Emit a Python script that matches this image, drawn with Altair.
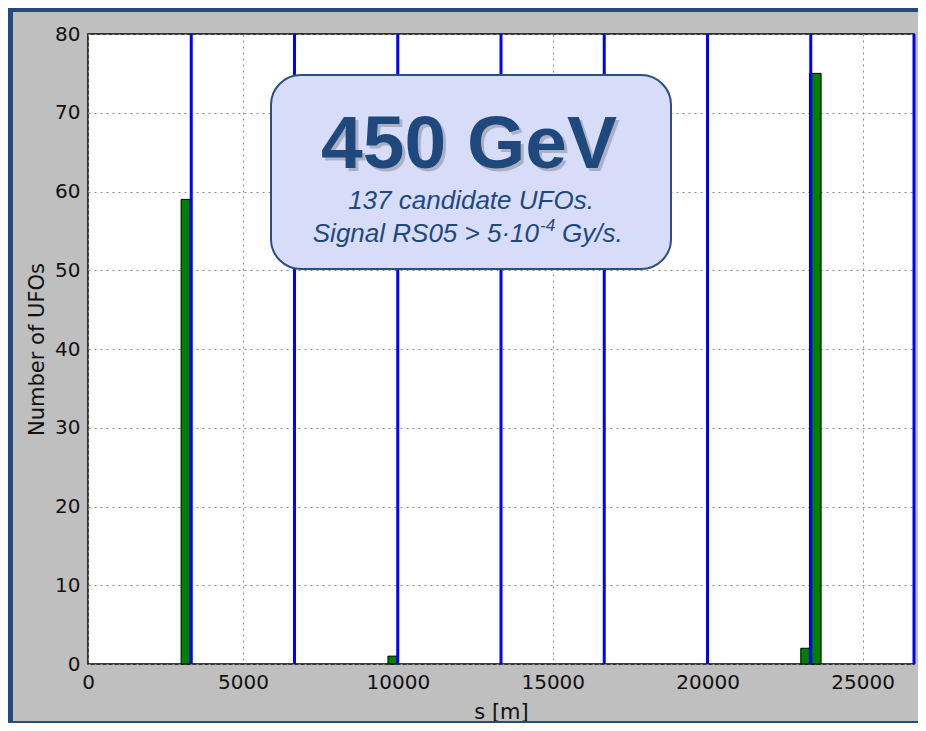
import altair as alt
import pandas as pd

# ---- data ----
bin_start = [3005, 9680, 23005, 23285]      # s [m], left edge of histogram bins
bin_end = [3295, 9975, 23285, 23660]        # s [m], right edge
counts = [59, 1, 2, 75]                     # Number of UFOs

octant_s = [3332, 6665, 9997, 13330, 16662, 19995, 23327, 26659]  # blue lines

x_ticks = [0, 5000, 10000, 15000, 20000, 25000]
y_ticks = [0, 10, 20, 30, 40, 50, 60, 70, 80]

title_main = "450 GeV"
line1 = "137 candidate UFOs."
line2_a = "Signal RS05 > 5·10"
line2_sup = "-4"
line2_b = "Gy/s."

CIRC = 26659
W, H = 826, 630
PAD = {"left": 80, "top": 26, "right": 4, "bottom": 59}

NAVY = "#1f497d"
BORDER = "#24497d"

bars_df = pd.DataFrame({"s0": bin_start, "s1": bin_end, "n": counts})
lines_df = pd.DataFrame({"s": octant_s})
one = pd.DataFrame({"a": [0]})

xscale = alt.Scale(domain=[0, CIRC], nice=False, zero=False)
yscale = alt.Scale(domain=[0, 80], nice=False)

xaxis = alt.Axis(values=x_ticks, format="d", title="s [m]", titlePadding=9)
yaxis = alt.Axis(values=y_ticks, format="d", title="Number of UFOs", titlePadding=7)

bars = alt.Chart(bars_df).mark_rect(fill="#008000", stroke="black", strokeWidth=1).encode(
    x=alt.X("s0:Q", scale=xscale, axis=xaxis),
    x2="s1",
    y=alt.Y("n:Q", scale=yscale, axis=yaxis),
    y2=alt.datum(0),
)

rules = alt.Chart(lines_df).mark_rule(color="#0000ff", strokeWidth=3).encode(
    x=alt.X("s:Q", scale=xscale)
)

box = alt.Chart(one).mark_rect(
    cornerRadius=30, fill="#d7ddf8", stroke="#2a5082", strokeWidth=2
).encode(x=alt.value(183), x2=alt.value(583), y=alt.value(41), y2=alt.value(235))

shadow = alt.Chart(one).mark_text(
    text=title_main, font="Liberation Sans", fontWeight="bold", fontSize=75,
    color="#000000", opacity=0.2, align="center", baseline="alphabetic", dx=3, dy=3
).encode(x=alt.value(381), y=alt.value(134))

big = alt.Chart(one).mark_text(
    text=title_main, font="Liberation Sans", fontWeight="bold", fontSize=75,
    color=NAVY, align="center", baseline="alphabetic"
).encode(x=alt.value(381), y=alt.value(134))

t1 = alt.Chart(one).mark_text(
    text=line1, font="Liberation Sans", fontStyle="italic", fontSize=26,
    color=NAVY, align="center", baseline="alphabetic"
).encode(x=alt.value(383), y=alt.value(175))

SPLIT_X = 451
t2a = alt.Chart(one).mark_text(
    text=line2_a, font="Liberation Sans", fontStyle="italic", fontSize=26,
    color=NAVY, align="right", baseline="alphabetic"
).encode(x=alt.value(SPLIT_X), y=alt.value(208))

t2s = alt.Chart(one).mark_text(
    text=line2_sup, font="Liberation Sans", fontStyle="italic", fontSize=17,
    color=NAVY, align="left", baseline="alphabetic"
).encode(x=alt.value(SPLIT_X + 1), y=alt.value(197))

t2b = alt.Chart(one).mark_text(
    text=line2_b, font="Liberation Sans", fontStyle="italic", fontSize=26,
    color=NAVY, align="left", baseline="alphabetic"
).encode(x=alt.value(SPLIT_X + 23), y=alt.value(208))

border_left = alt.Chart(one).mark_rect(fill=BORDER).encode(
    x=alt.value(-80), x2=alt.value(-75), y=alt.value(-26), y2=alt.value(H + 59)
)
border_top = alt.Chart(one).mark_rect(fill=BORDER).encode(
    x=alt.value(-80), x2=alt.value(W + 4), y=alt.value(-26), y2=alt.value(-22)
)
border_bottom = alt.Chart(one).mark_rect(fill=BORDER).encode(
    x=alt.value(-80), x2=alt.value(W + 4), y=alt.value(H + 57), y2=alt.value(H + 59)
)

chart = alt.layer(
    bars, rules, box, shadow, big, t1, t2a, t2s, t2b,
    border_left, border_top, border_bottom
).properties(
    width=W, height=H, padding=PAD,
    autosize=alt.AutoSizeParams(type="none"),
    background="#bfbfbf",
).configure_view(
    stroke="black", strokeWidth=1.5, fill="white"
).configure_axis(
    labelFont="DejaVu Sans", labelFontSize=20, labelColor="#111111",
    titleFont="DejaVu Sans", titleFontSize=21, titleFontWeight="normal", titleColor="#111111",
    grid=True, gridColor="#8c8c8c", gridDash=[2, 4], gridWidth=1,
    ticks=False, domain=False, labelPadding=8,
    labelFlush=False, labelOverlap=False,
)

chart.save("out.html", embed_options={"renderer": "svg", "actions": False})
